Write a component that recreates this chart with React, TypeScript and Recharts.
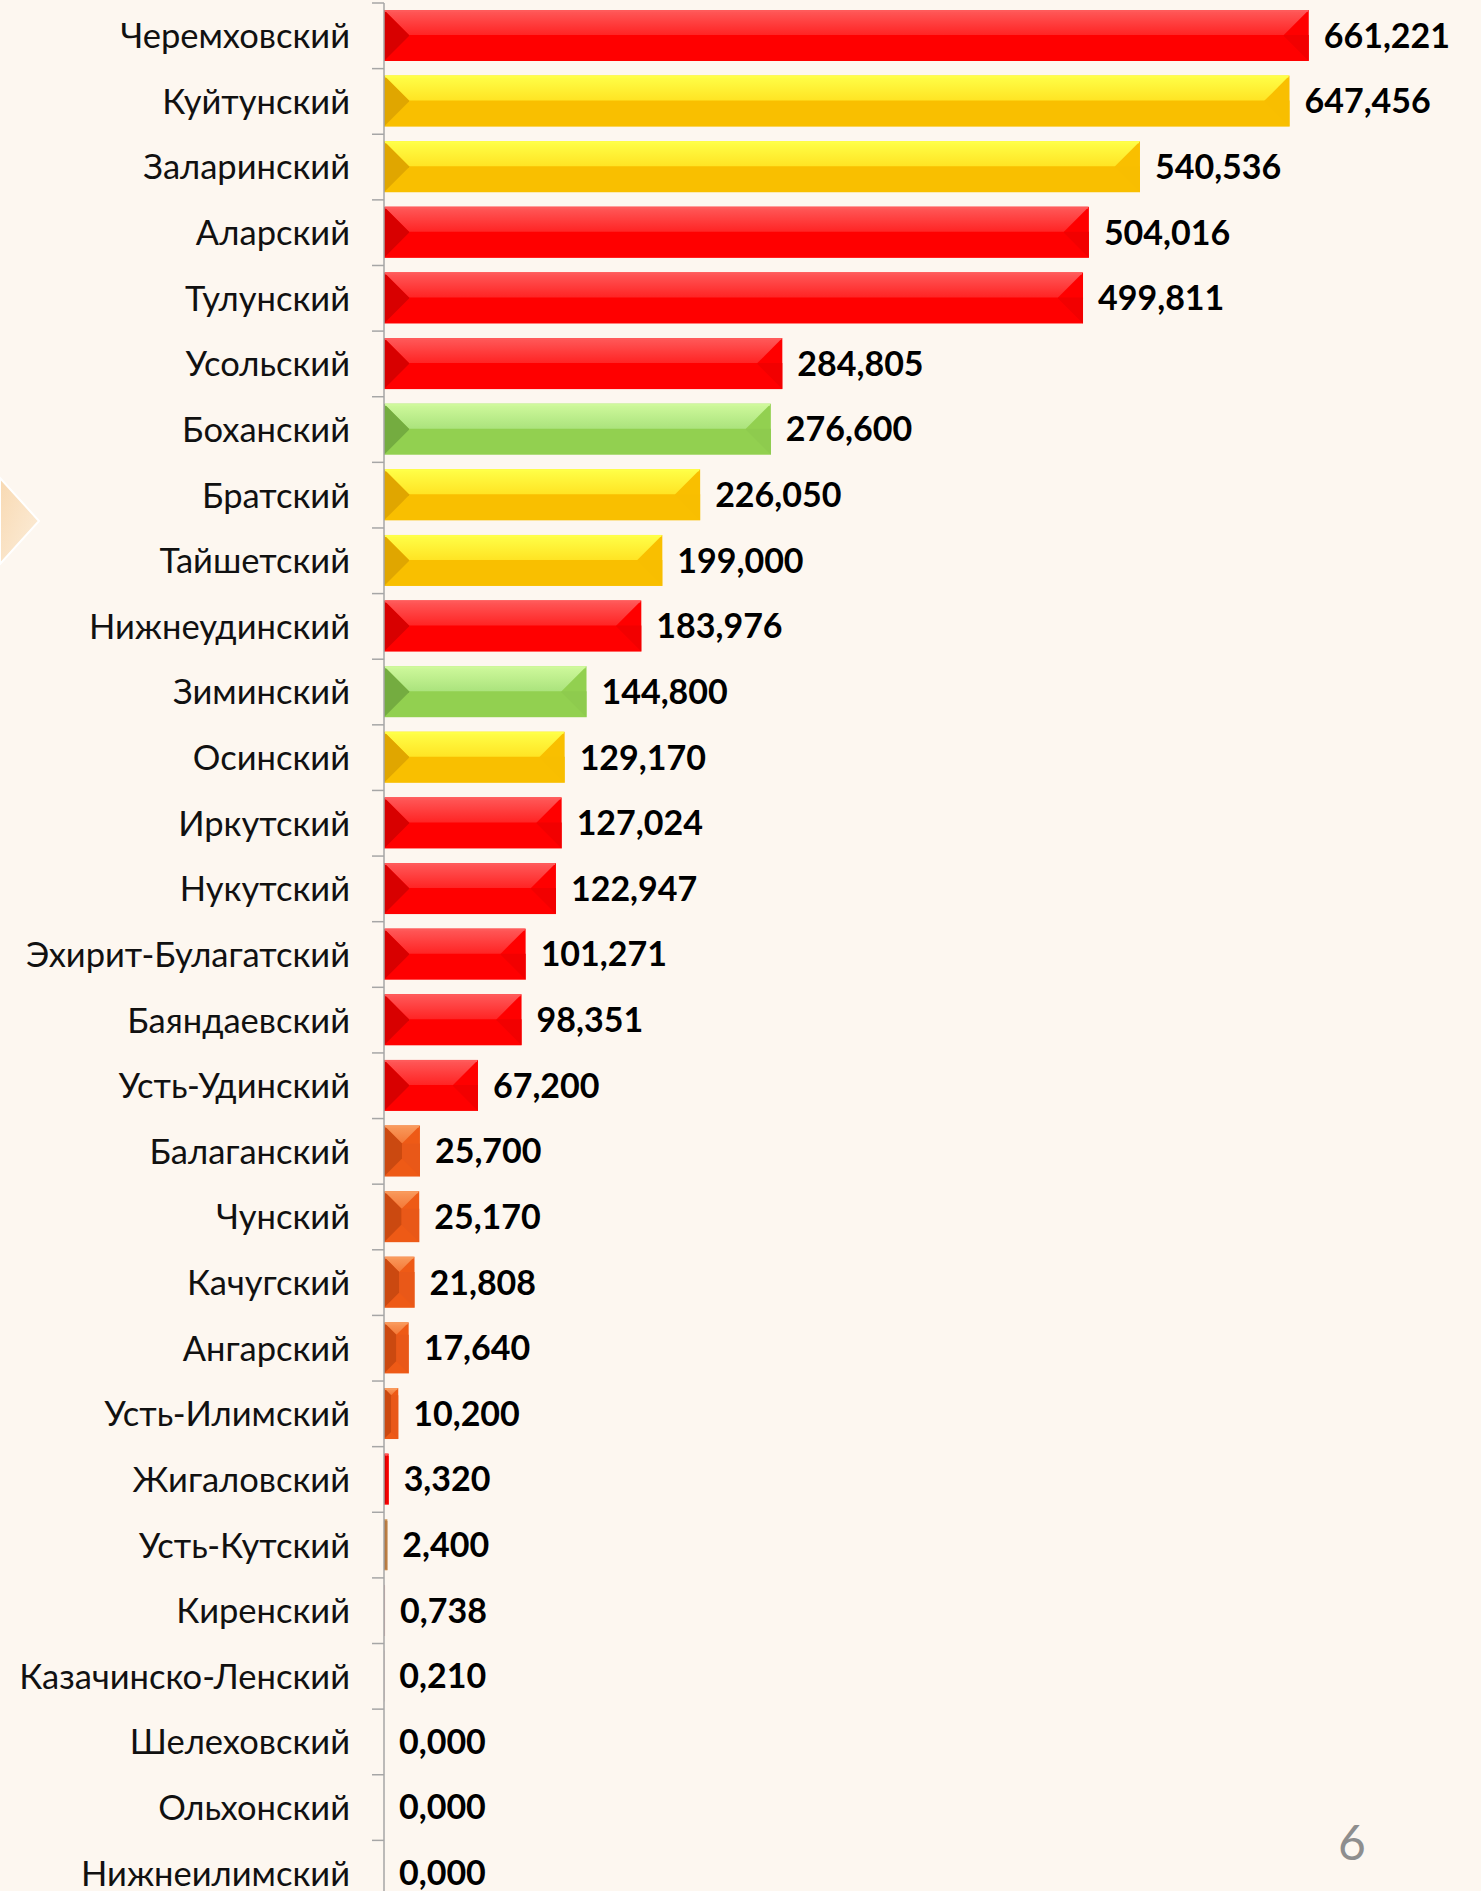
import React from 'react';
import { BarChart, Bar, XAxis, YAxis, LabelList } from 'recharts';

// district names, top to bottom
const districts = [
  'Черемховский',
  'Куйтунский',
  'Заларинский',
  'Аларский',
  'Тулунский',
  'Усольский',
  'Боханский',
  'Братский',
  'Тайшетский',
  'Нижнеудинский',
  'Зиминский',
  'Осинский',
  'Иркутский',
  'Нукутский',
  'Эхирит-Булагатский',
  'Баяндаевский',
  'Усть-Удинский',
  'Балаганский',
  'Чунский',
  'Качугский',
  'Ангарский',
  'Усть-Илимский',
  'Жигаловский',
  'Усть-Кутский',
  'Киренский',
  'Казачинско-Ленский',
  'Шелеховский',
  'Ольхонский',
  'Нижнеилимский',
];

const amounts = [
  661.221, 647.456, 540.536, 504.016, 499.811, 284.805, 276.6, 226.05, 199.0,
  183.976, 144.8, 129.17, 127.024, 122.947, 101.271, 98.351, 67.2, 25.7, 25.17,
  21.808, 17.64, 10.2, 3.32, 2.4, 0.738, 0.21, 0, 0, 0,
];

const tones = [
  'red', 'yellow', 'yellow', 'red', 'red', 'red', 'green', 'yellow', 'yellow',
  'red', 'green', 'yellow', 'red', 'red', 'red', 'red', 'red', 'orange', 'orange',
  'orange', 'orange', 'orange', 'red', 'tan', 'pink', 'pink', 'red', 'red', 'red',
];

const palettes: Record<string, { hi: string; top: string; base: string; left: string; right: string }> = {
  red: { hi: '#FF5A5A', top: '#FF2424', base: '#FF0000', left: '#D80000', right: '#F20000' },
  yellow: { hi: '#FFFF48', top: '#FFE424', base: '#F9BF00', left: '#E0A600', right: '#F8BE00' },
  green: { hi: '#CFF99C', top: '#ABE37D', base: '#92D050', left: '#74AC40', right: '#8ECB4E' },
  orange: { hi: '#F99A5C', top: '#F47837', base: '#EE5A16', left: '#CB4910', right: '#E95818' },
  tan: { hi: '#E2B27A', top: '#D49A5C', base: '#C88A4C', left: '#A86E38', right: '#BC7E44' },
  pink: { hi: '#F0D0D0', top: '#E6BDBD', base: '#E0B0B0', left: '#C89898', right: '#D8A8A8' },
};

const rows = districts.map((name, i) => ({ name, value: amounts[i], tone: tones[i] }));

const W = 1481;
const H = 1906;
const TOP = 3;
const AXIS_X = 384;
const BAND = (H - TOP) / districts.length;
const BG = '#FDF7F0';
const FONT = 'Lato, "Open Sans", sans-serif';

const fmt = (v: number) => v.toFixed(3).replace('.', ',');

function BevelBar(props: any) {
  const { x, y, width, height, index, payload } = props;
  if (!width || width <= 0) return null;
  const p = palettes[payload.tone];
  const b = Math.min(25, height / 2, width / 2);
  const r = x + width;
  const btm = y + height;
  const gid = `bevel-top-${index}`;
  return (
    <g>
      <defs>
        <linearGradient id={gid} x1="0" y1="0" x2="0" y2="1">
          <stop offset="0" stopColor={p.hi} />
          <stop offset="1" stopColor={p.top} />
        </linearGradient>
      </defs>
      <rect x={x} y={y} width={width} height={height} fill={p.base} />
      <polygon points={`${x},${y} ${r},${y} ${r - b},${y + b} ${x + b},${y + b}`} fill={`url(#${gid})`} />
      <polygon points={`${x},${y} ${x + b},${y + b} ${x + b},${btm - b} ${x},${btm}`} fill={p.left} />
      <polygon points={`${r},${btm} ${r - b},${btm - b} ${r - b},${y + b} ${r},${y + b}`} fill={p.right} />
      {width > 4 && <line x1={x + 1} x2={r - 1} y1={y + 1} y2={y + 1} stroke={p.hi} strokeWidth={2} />}
    </g>
  );
}

function ValueTag(props: any) {
  const { x, y, width, height, value } = props;
  return (
    <text
      x={x + width + 15}
      y={y + height / 2}
      dy="0.36em"
      fontFamily={FONT}
      fontWeight={700}
      fontSize={34}
      fill="#000"
    >
      {fmt(value)}
    </text>
  );
}

function DistrictTick(props: any) {
  const { y, payload } = props;
  const edge = y - BAND / 2;
  return (
    <g>
      <line x1={AXIS_X - 12} x2={AXIS_X} y1={edge} y2={edge} stroke="#A6A6A6" strokeWidth={1.5} />
      <text
        x={AXIS_X - 34}
        y={y}
        dy="0.36em"
        textAnchor="end"
        fontFamily={FONT}
        fontSize={34.5}
        fill="#111"
      >
        {payload.value}
      </text>
    </g>
  );
}

export default function App() {
  return (
    <div
      style={{
        position: 'absolute',
        left: 0,
        top: 0,
        width: W,
        height: 1891,
        overflow: 'hidden',
        background: BG,
      }}
    >
      <svg width={W} height={1891} style={{ position: 'absolute', left: 0, top: 0 }}>
        <defs>
          <linearGradient id="corner" x1="0" y1="0" x2="1" y2="1">
            <stop offset="0" stopColor="#F8D9B2" />
            <stop offset="1" stopColor="#FCEEDB" />
          </linearGradient>
        </defs>
        <polygon points="0,478 39,521 0,564" fill="url(#corner)" stroke="#FFFFFF" strokeWidth={2} />
        <text x={1352} y={1843} dy="0.36em" textAnchor="middle" fontFamily={FONT} fontSize={48} fill="#8E8E8E">
          6
        </text>
      </svg>
      <div style={{ position: 'absolute', left: 0, top: 0 }}>
        <BarChart
          width={W}
          height={H}
          data={rows}
          layout="vertical"
          margin={{ top: TOP, right: 118, bottom: 0, left: 0 }}
          barSize={51}
        >
          <XAxis type="number" domain={[0, 700]} hide />
          <YAxis
            type="category"
            dataKey="name"
            width={AXIS_X}
            interval={0}
            axisLine={{ stroke: '#A6A6A6', strokeWidth: 1.5 }}
            tickLine={false}
            tick={<DistrictTick />}
          />
          <Bar dataKey="value" shape={<BevelBar />} isAnimationActive={false}>
            <LabelList dataKey="value" content={<ValueTag />} />
          </Bar>
        </BarChart>
      </div>
    </div>
  );
}
